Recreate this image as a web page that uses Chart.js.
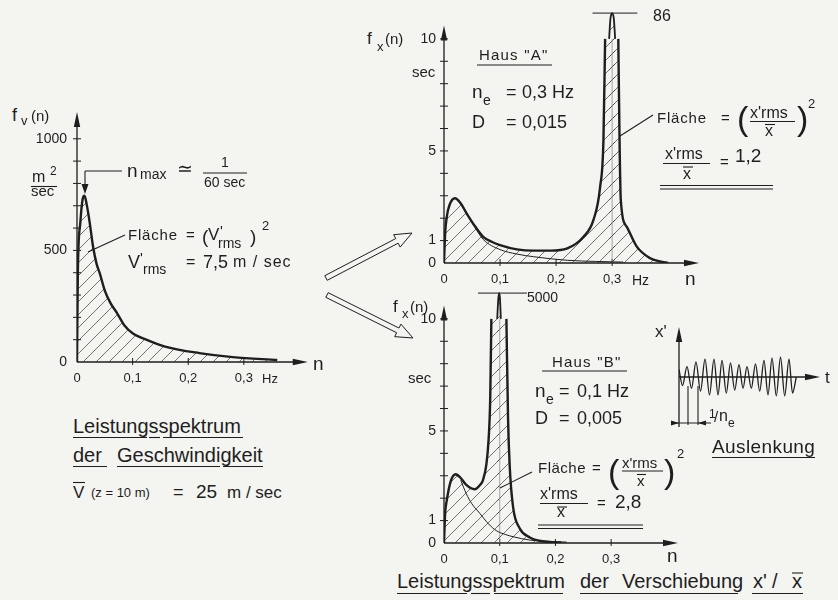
<!DOCTYPE html>
<html>
<head>
<meta charset="utf-8">
<script src="https://cdn.jsdelivr.net/npm/chart.js@4.4.1/dist/chart.umd.min.js"></script>
<style>
html, body { margin: 0; padding: 0; background: #f4f4f1; }
#seite { position: relative; width: 838px; height: 600px; overflow: hidden; background: #f4f4f1;
  font-family: "Liberation Sans", Arial, sans-serif; color: #1e1e1e; }
canvas { position: absolute; }
.t { position: absolute; white-space: pre; line-height: 1; }
svg { position: absolute; left: 0; top: 0; }
</style>
</head>
<body>
<div id="seite">
  <canvas id="cV" width="310" height="290" style="left:20px;top:100px"></canvas>
  <canvas id="cA" width="340" height="290" style="left:380px;top:0px"></canvas>
  <canvas id="cB" width="320" height="290" style="left:380px;top:280px"></canvas>
  <canvas id="cW" width="188" height="114" style="left:650px;top:320px"></canvas>
</div>
<script>
// Leistungsspektrum der Windgeschwindigkeit f_v(n)
const nV = [0, 0.0015, 0.006, 0.0102, 0.0135, 0.0175, 0.0225, 0.029, 0.035, 0.041, 0.05, 0.06, 0.072, 0.085, 0.1, 0.13, 0.16, 0.22, 0.28, 0.36];
const fV = [0, 400, 625, 730, 745, 705, 630, 515, 442, 397, 320, 265, 219, 165, 129, 95, 68, 40, 22, 9];
const xWerteV = [0, 0.1, 0.2, 0.3];
const yWerteV = [0, 500, 1000];
const yStricheV = [100, 200, 300, 400, 500, 600, 700, 800, 900, 1000];

// Haus "A": Antwortspektrum (dick), Windspektrum (duenn), Spitze ueber dem Bruch
const nA = [0, 0.002, 0.005, 0.01, 0.0196, 0.03, 0.04, 0.055, 0.07, 0.085, 0.1, 0.13, 0.16, 0.19, 0.22, 0.249, 0.2667, 0.2786, 0.2845, 0.2875, 0.311, 0.3135, 0.3155, 0.326, 0.344, 0.368, 0.385, 0.4];
const fA = [0, 1.3, 2.07, 2.6, 2.89, 2.65, 2.23, 1.65, 1.17, 0.95, 0.8, 0.61, 0.55, 0.55, 0.65, 1.17, 1.92, 3.4, 5.5, 10, 10, 5, 2.8, 1.62, 0.73, 0.21, 0.07, 0];
const nSpA = [0.2946, 0.297, 0.3, 0.303, 0.3054];
const fSpA = [10, 10.9, 11.15, 10.9, 10];
const nDA = [0.03, 0.04, 0.055, 0.07, 0.1, 0.13, 0.16, 0.22, 0.27, 0.32];
const fDA = [2.65, 2.23, 1.6, 1.05, 0.6, 0.4, 0.28, 0.12, 0.07, 0.04];
const neA = 0.3;              // Eigenfrequenz
const kappeNA = [0.265, 0.345]; // Strich "86"
const kappeF = 11.15;
const bruchF = 10;

// Haus "B"
const nB = [0, 0.002, 0.005, 0.012, 0.021, 0.03, 0.04, 0.055, 0.065, 0.07, 0.076, 0.08, 0.083, 0.085, 0.112, 0.115, 0.118, 0.124, 0.136, 0.154, 0.171, 0.19, 0.21];
const fB = [0, 1.3, 1.9, 2.75, 3.07, 2.9, 2.59, 2.4, 2.6, 2.81, 3.5, 4.6, 6.5, 10, 10, 5.5, 3.4, 1.6, 0.65, 0.25, 0.1, 0.05, 0.02];
const nSpB = [0.0955, 0.0975, 0.099, 0.1005, 0.102];
const fSpB = [10, 10.9, 11.15, 10.9, 10];
const nDB = [0.03, 0.04, 0.05, 0.064, 0.08, 0.094, 0.11, 0.124, 0.154, 0.18, 0.22];
const fDB = [2.8, 2.2, 1.75, 1.33, 0.85, 0.55, 0.38, 0.28, 0.13, 0.08, 0.04];
const neB = 0.1;
const kappeNB = [0.061, 0.149]; // Strich "5000"

const xWerteH = [0, 0.1, 0.2, 0.3];
const yWerteH = [0, 1, 5, 10];
const yStricheH = [1, 2, 3, 4, 5, 6, 7, 8, 9, 10];

// Auslenkung x'(t)
const tW = [0, 3.5, 8, 12.5, 17, 21.5, 26, 30.5, 35, 39, 43, 47.3, 51.5, 55.7, 60, 64, 68, 72.3, 76.5, 80.7, 85, 89, 93, 97.3, 101.5, 105.7, 110, 113.5, 117.3];
const xW = [0.4, -0.45, 0.55, -0.6, 0.8, -0.75, 0.95, -0.95, 0.95, -0.95, 0.88, -0.85, 0.75, -0.7, 0.65, -0.6, 0.55, -0.6, 0.7, -0.75, 0.88, -0.95, 1.0, -1.0, 1.05, -1.0, 0.95, -0.85, 0];

const ink = '#1e1e1e';
const schrift = 'Liberation Sans';

function komma(v) { return String(v).replace('.', ','); }
function punkte(xs, ys) { return xs.map((x, i) => ({ x: x, y: ys[i] })); }

// Linie mit Unterbrechung oberhalb des Bruchs (zwischen den beiden Werten = bruchF)
function mitBruch(p) {
  const out = [];
  p.forEach((q, i) => {
    out.push(q);
    if (q.y === bruchF && p[i + 1] && p[i + 1].y === bruchF) out.push({ x: (q.x + p[i + 1].x) / 2, y: null });
  });
  return out;
}

function schraffur() {
  const c = document.createElement('canvas');
  c.width = 13; c.height = 13;
  const g = c.getContext('2d');
  g.strokeStyle = 'rgba(40,40,40,0.8)';
  g.lineWidth = 0.8;
  g.beginPath();
  g.moveTo(0, 13); g.lineTo(13, 0);
  g.moveTo(-2, 2); g.lineTo(2, -2);
  g.moveTo(11, 15); g.lineTo(15, 11);
  g.stroke();
  return g.createPattern(c, 'repeat');
}
const hatch = schraffur();

// Achsen mit Pfeilspitzen und Strichen
const achsen = {
  id: 'achsen',
  beforeDatasetsDraw(chart, args, o) {
    const ctx = chart.ctx, sx = chart.scales.x, sy = chart.scales.y;
    const px = v => sx.getPixelForValue(v), py = v => sy.getPixelForValue(v);
    const x0 = px(0), y0 = py(0);
    const xa = px(o.xVon || 0), xe = px(o.xBis), ya = py(o.yVon || 0), ye = py(o.yBis);
    ctx.save();
    ctx.strokeStyle = ink; ctx.fillStyle = ink; ctx.lineWidth = 1.3;
    ctx.beginPath();
    ctx.moveTo(xa, y0); ctx.lineTo(xe - 6, y0);
    ctx.moveTo(x0, ya); ctx.lineTo(x0, ye + 6);
    ctx.stroke();
    ctx.beginPath(); ctx.moveTo(xe, y0); ctx.lineTo(xe - 15, y0 - 3.2); ctx.lineTo(xe - 15, y0 + 3.2); ctx.closePath(); ctx.fill();
    ctx.beginPath(); ctx.moveTo(x0, ye); ctx.lineTo(x0 - 3.2, ye + 15); ctx.lineTo(x0 + 3.2, ye + 15); ctx.closePath(); ctx.fill();
    ctx.lineWidth = 1;
    ctx.beginPath();
    (o.yStriche || []).forEach(v => { ctx.moveTo(x0 - 4, py(v)); ctx.lineTo(x0 + 4, py(v)); });
    (o.xStriche || []).forEach(v => { ctx.moveTo(px(v), y0 - 4); ctx.lineTo(px(v), y0 + 3); });
    ctx.stroke();
    ctx.restore();
  }
};

function diagramm(id, c) {
  return new Chart(document.getElementById(id), {
    type: 'line',
    data: { datasets: c.datasets },
    options: {
      responsive: false, animation: false, events: [],
      layout: { padding: c.pad },
      elements: { point: { radius: 0 }, line: { cubicInterpolationMode: 'monotone', borderJoinStyle: 'round' } },
      plugins: { legend: { display: false }, tooltip: { enabled: false }, achsen: c.achsen },
      scales: {
        x: {
          type: 'linear', min: 0, max: c.xMax, display: c.beschriftet,
          afterBuildTicks: s => { s.ticks = (c.xWerte || []).map(v => ({ value: v })); },
          ticks: { callback: komma, color: ink, font: { family: schrift, size: 13 }, padding: 9, maxRotation: 0, autoSkip: false },
          grid: { display: false, drawTicks: false }, border: { display: false },
          afterFit: s => { s.height = c.xHoehe || 0; s.paddingLeft = 0; s.paddingRight = 0; }
        },
        y: {
          type: 'linear', min: c.yMin || 0, max: c.yMax, display: c.beschriftet,
          afterBuildTicks: s => { s.ticks = (c.yWerte || []).map(v => ({ value: v })); },
          ticks: { callback: komma, color: ink, font: { family: schrift, size: 14 }, padding: c.yPad || 8, autoSkip: false },
          grid: { display: false, drawTicks: false }, border: { display: false },
          afterFit: s => { s.width = c.yBreite || 0; s.paddingTop = 0; s.paddingBottom = 0; }
        }
      }
    },
    plugins: [achsen]
  });
}

const dick = { borderColor: ink, borderWidth: 2.4, fill: false, spanGaps: false };
const flaeche = { borderColor: 'rgba(0,0,0,0)', borderWidth: 0, backgroundColor: hatch, fill: 'origin' };

// linkes Diagramm
const kurveV = punkte(nV, fV);
diagramm('cV', {
  pad: { top: 12, right: 25, left: 0, bottom: 0 }, xMax: 0.41, yMax: 1120,
  xHoehe: 28, yBreite: 57, yPad: 10, beschriftet: true,
  xWerte: xWerteV, yWerte: yWerteV,
  achsen: { xBis: 0.415, yBis: 1120, yStriche: yStricheV, xStriche: xWerteV.slice(1) },
  datasets: [
    Object.assign({ data: kurveV }, dick),
    Object.assign({ data: kurveV }, flaeche)
  ]
});

function haus(id, c) {
  const p = punkte(c.n, c.f), sp = punkte(c.nSp, c.fSp);
  diagramm(id, {
    pad: c.pad, xMax: c.xMax, yMax: 11.6, xHoehe: 27, yBreite: 64, yPad: 8, beschriftet: true,
    xWerte: xWerteH, yWerte: yWerteH,
    achsen: { xBis: c.xMax, yBis: 10.6, yStriche: yStricheH, xStriche: xWerteH.slice(1) },
    datasets: [
      Object.assign({ data: mitBruch(p) }, dick),
      { data: sp, borderColor: ink, borderWidth: 1.8 },
      { data: punkte(c.nD, c.fD), borderColor: ink, borderWidth: 1 },
      { data: c.kappe.map(n => ({ x: n, y: kappeF })), borderColor: ink, borderWidth: 1 },
      { data: [{ x: c.ne, y: 0 }, { x: c.ne, y: bruchF }], borderColor: '#8e8e8e', borderWidth: 0.8 },
      Object.assign({ data: p }, flaeche),
      Object.assign({ data: sp }, flaeche)
    ]
  });
}
haus('cA', { n: nA, f: fA, nSp: nSpA, fSp: fSpA, nD: nDA, fD: fDA, ne: neA, kappe: kappeNA, xMax: 0.455, pad: { top: 3, right: 21, left: 0, bottom: 0 } });
haus('cB', { n: nB, f: fB, nSp: nSpB, fSp: fSpB, nD: nDB, fD: fDB, ne: neB, kappe: kappeNB, xMax: 0.42, pad: { top: 3, right: 22, left: 0, bottom: 0 } });

// Auslenkung
diagramm('cW', {
  pad: { top: 6, right: 18, left: 29, bottom: 6 }, xMax: 141, yMin: -2.7, yMax: 2.7, beschriftet: false,
  achsen: { xBis: 141, yVon: -2.65, yBis: 2.65 },
  datasets: [{ data: punkte(tW, xW), borderColor: ink, borderWidth: 1.3 }]
});

// Texte
const seite = document.getElementById('seite');
function text(x, base, size, html, extra) {
  const d = document.createElement('div');
  d.className = 't';
  d.style.cssText = 'left:' + x + 'px;top:' + (base - 0.85 * size) + 'px;font-size:' + size + 'px;' + (extra || '');
  d.innerHTML = html;
  seite.appendChild(d);
}
const texte = [
  // links
  [12, 121, 18, 'f'], [21, 125, 13, 'v'], [31, 121, 15, '(n)'],
  [32, 183, 16, 'm'], [50, 175, 12, '2'], [31, 196, 15, 'sec'],
  [127, 177, 19, 'n'], [140, 179, 14, 'max'], [177, 175, 19, '≃'], [221, 167, 14, '1'], [204, 187, 14, '60 sec'],
  [128, 240, 15, 'Fläche', 'letter-spacing:0.8px'], [186, 240, 15, '='], [202, 243, 19, '('], [208, 240, 17, 'V'],
  [220, 236, 15, "'"], [218, 248, 14, 'rms'], [250, 243, 19, ')'], [262, 230, 13, '2'],
  [128, 268, 18, 'V'], [140, 263, 15, "'"], [143, 274, 14, 'rms'], [186, 268, 16, '='], [203, 268, 18, '7,5'],
  [233, 268, 16, 'm / sec', 'letter-spacing:1px'],
  [262, 383, 13, 'Hz'], [313, 370, 19, 'n'],
  [73, 433, 20, 'Leistungsspektrum'], [73, 462, 20, 'der'], [117, 462, 20, 'Geschwindigkeit'],
  [73, 498, 17, 'V'], [91, 497, 13, '(z = 10 m)'], [173, 498, 18, '='], [196, 498, 19, '25'], [227, 498, 17, 'm / sec'],
  // Haus A
  [367, 44, 17, 'f'], [377, 51, 13, 'x'], [385, 44, 15, '(n)'], [412, 77, 15, 'sec'],
  [479, 60, 15, 'Haus "A"', 'letter-spacing:1.2px'],
  [472, 98, 19, 'n'], [483, 105, 14, 'e'], [506, 98, 18, '='], [522, 98, 18, '0,3 Hz'],
  [472, 128, 18, 'D'], [506, 128, 18, '='], [522, 128, 18, '0,015'],
  [657, 123, 15, 'Fläche', 'letter-spacing:0.8px'], [721, 123, 15, '='], [737, 130, 34, '('],
  [750, 119, 16, "x'rms"], [765, 137, 16, 'x'], [797, 130, 34, ')'], [808, 108, 13, '2'],
  [665, 160, 16, "x'rms"], [683, 180, 16, 'x'], [720, 167, 15, '='], [735, 162, 19, '1,2'],
  [653, 22, 16, '86'], [632, 285, 14, 'Hz'], [685, 285, 19, 'n'],
  // Haus B
  [393, 312, 17, 'f'], [402, 318, 13, 'x'], [410, 312, 15, '(n)'], [408, 383, 15, 'sec'],
  [552, 367, 15, 'Haus "B"', 'letter-spacing:1.2px'],
  [535, 397, 19, 'n'], [546, 404, 14, 'e'], [559, 397, 18, '='], [577, 397, 18, '0,1 Hz'],
  [535, 424, 18, 'D'], [559, 424, 18, '='], [577, 424, 18, '0,005'],
  [538, 473, 15, 'Fläche', 'letter-spacing:0.5px'], [592, 473, 15, '='], [608, 483, 34, '('],
  [622, 468, 15, "x'rms"], [637, 486, 15, 'x'], [664, 483, 34, ')'], [677, 458, 13, '2'],
  [540, 500, 16, "x'rms"], [557, 518, 16, 'x'], [597, 508, 15, '='], [615, 508, 19, '2,8'],
  [527, 302, 14, '5000'], [667, 562, 19, 'n'],
  [397, 588, 20, 'Leistungsspektrum'], [580, 588, 20, 'der'], [622, 588, 20, 'Verschiebung'],
  [753, 588, 20, "x'"], [772, 588, 20, '/'], [792, 588, 20, 'x'],
  // Auslenkung
  [655, 337, 17, "x'"], [825, 383, 17, 't'], [709, 418, 12, '1'], [714, 422, 15, '/'], [719, 422, 16, 'n'], [728, 427, 12, 'e'],
  [712, 453, 19, 'Auslenkung', 'letter-spacing:0.4px']
];
texte.forEach(t => text(t[0], t[1], t[2], t[3], t[4]));

// Hinweislinien, Bruchstriche, Unterstreichungen, Pfeile
function linie(x1, y1, x2, y2, w) {
  return '<line x1="' + x1 + '" y1="' + y1 + '" x2="' + x2 + '" y2="' + y2 + '" stroke="' + ink + '" stroke-width="' + (w || 1) + '"/>';
}
function hohlpfeil(ax, ay, bx, by) {
  const L = Math.hypot(bx - ax, by - ay), ux = (bx - ax) / L, uy = (by - ay) / L, nx = -uy, ny = ux;
  const w = 2.6, h = 7, k = 17, cx = bx - ux * k, cy = by - uy * k;
  const p = [[ax + nx * w, ay + ny * w], [cx + nx * w, cy + ny * w], [cx + nx * h, cy + ny * h], [bx, by],
             [cx - nx * h, cy - ny * h], [cx - nx * w, cy - ny * w], [ax - nx * w, ay - ny * w]];
  return '<polygon points="' + p.map(q => q.join(',')).join(' ') + '" fill="none" stroke="' + ink + '" stroke-width="1"/>';
}
const striche = [
  [31, 186.5, 57, 186.5], [203, 173, 247, 173], [122, 171, 85, 171], [85, 171, 85, 186], [125, 235, 88, 252],
  [73, 482.5, 85, 482.5],
  [73, 437.5, 147, 437.5], [149, 437.5, 160, 437.5], [163, 437.5, 243, 437.5],
  [73, 466.5, 107, 466.5], [117, 466.5, 220, 466.5], [223, 466.5, 263, 466.5],
  [477, 65, 552, 65], [653, 115, 620, 136], [750, 121.5, 795, 121.5], [765, 124.5, 775, 124.5],
  [663, 163.5, 710, 163.5], [683, 167, 693, 167], [660, 185.5, 773, 185.5], [660, 189, 773, 189],
  [542, 371, 627, 371], [532, 472, 500, 488], [622, 471, 663, 471], [637, 474.5, 646, 474.5],
  [540, 503.5, 588, 503.5], [557, 507, 567, 507], [538, 525, 643, 525], [538, 528.5, 643, 528.5],
  [397, 593.5, 467, 593.5], [471, 593.5, 490, 593.5], [494, 593.5, 563, 593.5], [580, 593.5, 738, 593.5],
  [752, 593.5, 803, 593.5], [792, 573, 803, 573],
  [688, 386, 688, 425], [698, 386, 698, 425], [672, 423, 711, 423], [712, 457.5, 815, 457.5]
];
let svg = '<svg width="838" height="600" xmlns="http://www.w3.org/2000/svg">';
striche.forEach(s => { svg += linie(s[0], s[1], s[2], s[3], 1.1); });
svg += '<polygon points="81.5,184 88.5,184 85,194" fill="' + ink + '"/>';
svg += '<polygon points="679,423 671,420.5 671,425.5" fill="' + ink + '"/>';
svg += '<polygon points="698,423 706,420.5 706,425.5" fill="' + ink + '"/>';
svg += hohlpfeil(326, 278, 412, 233);
svg += hohlpfeil(327, 295, 413, 338);
svg += '</svg>';
seite.insertAdjacentHTML('beforeend', svg);
</script>
</body>
</html>
